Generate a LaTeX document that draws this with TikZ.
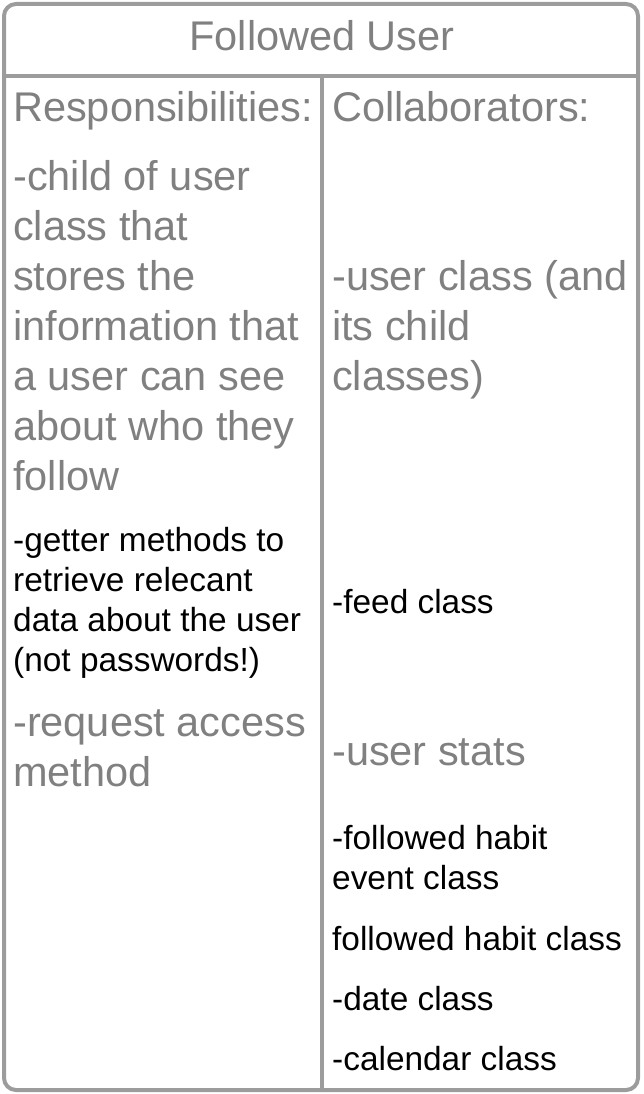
\documentclass[tikz,border=0pt]{standalone}
\usepackage{fontspec}
\setmainfont{Liberation Sans}
\usepackage{tikz}
\usetikzlibrary{positioning}
\definecolor{cardgray}{HTML}{9C9C9C}
\definecolor{textgray}{HTML}{808080}

\begin{document}
\begin{tikzpicture}[
		% one unit is one pixel of the card, y going down
		x=1pt, y=-1pt,
		line join=round, line cap=round,
		cardtxt/.style={anchor=west, inner sep=0pt, align=left,
				execute at begin node=\strut, execute at end node=\strut},
		bigtxt/.style={cardtxt, text=textgray,
				font=\fontsize{41.5}{50}\selectfont},
		smalltxt/.style={cardtxt, text=black,
				font=\fontsize{33.4}{40}\selectfont}
	]

	% Parameters
	\def\W{638}
	\def\H{1090}
	\def\Head{76}
	\def\Mid{322}

	\useasboundingbox (0,0) rectangle (644,1094);

	%-------------------
	% Card outline
	%-------------------
	\draw[cardgray, line width=4pt, rounded corners=12pt] (4,4) rectangle (\W,\H);
	\draw[cardgray, line width=4pt] (4,\Head) -- (\W,\Head);
	\draw[cardgray, line width=4pt] (\Mid,\Head) -- (\Mid,\H);

	%-------------------
	% Title
	%-------------------
	\node[bigtxt, anchor=center] (title) at (322,41) {Followed User};

	%-------------------
	% Responsibilities
	%-------------------
	\node[bigtxt] (resp) at (13,112) {Responsibilities:};
	\node[bigtxt] (child) at (13,333) {-child of user\\class that\\stores the\\information that\\a user can see\\about who they\\follow};
	\node[smalltxt] (getter) at (13,605) {-getter methods to\\retrieve relecant\\data about the user\\(not passwords!)};
	\node[bigtxt] (request) at (13,756) {-request access\\method};

	%-------------------
	% Collaborators
	%-------------------
	\node[bigtxt] (collab) at (332,112) {Collaborators:};
	\node[bigtxt] (user) at (332,333) {-user class (and\\its child\\classes)};
	\node[smalltxt] (feed) at (332,605) {-feed class};
	\node[bigtxt] (stats) at (332,755) {-user stats};
	\node[smalltxt] (event) at (332,863) {-followed habit\\event class};
	\node[smalltxt] (habit) at (332,942) {followed habit class};
	\node[smalltxt] (date) at (332,1002) {-date class};
	\node[smalltxt] (calendar) at (332,1062) {-calendar class};

\end{tikzpicture}
\end{document}
